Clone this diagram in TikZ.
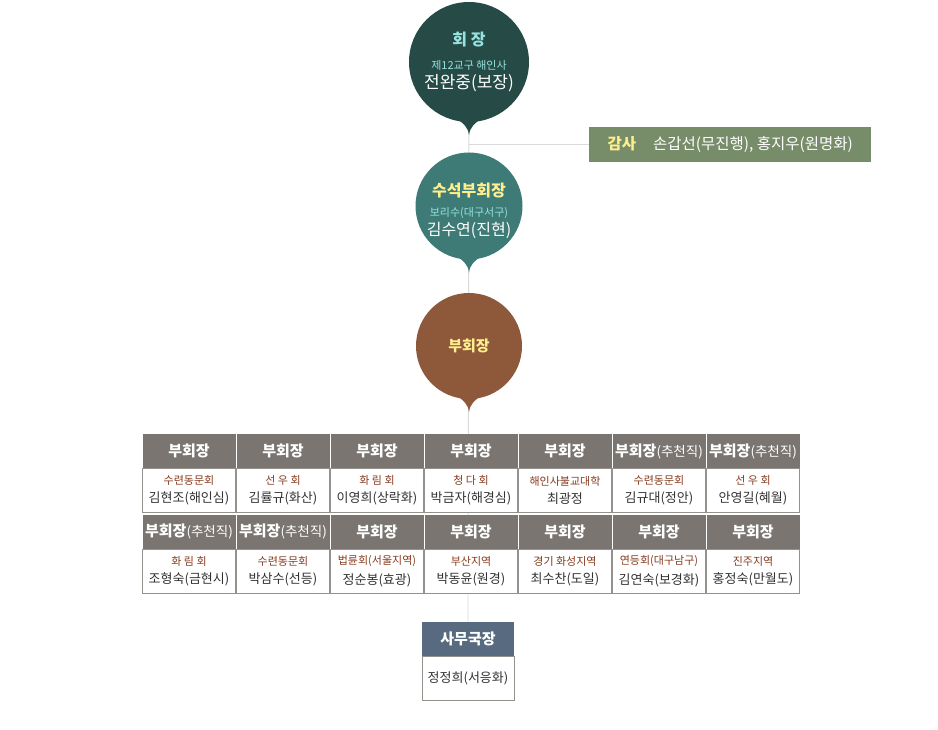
\documentclass[tikz,border=0pt]{standalone}
\usepackage{fontspec}
\setmainfont{Noto Sans CJK KR}
\usetikzlibrary{positioning, backgrounds}
\definecolor{ChDark}{RGB}{38,75,70}
\definecolor{ChTeal}{RGB}{62,123,118}
\definecolor{ChBrown}{RGB}{142,88,58}
\definecolor{ChOlive}{RGB}{119,140,105}
\definecolor{ChGray}{RGB}{122,117,113}
\definecolor{ChSlate}{RGB}{88,106,128}
\definecolor{ChYellow}{RGB}{255,238,140}
\definecolor{ChCyan}{RGB}{150,226,222}
\definecolor{ChRed}{RGB}{135,60,30}
\definecolor{ChLine}{RGB}{218,218,218}
\definecolor{ChText}{RGB}{50,50,50}
% pointed tip under a bubble
\newcommand{\bubbletip}[2]{\fill[#1] ([xshift=-15pt,yshift=5pt]#2.south)
  .. controls ([xshift=-5pt,yshift=-1pt]#2.south) and ([xshift=-1pt,yshift=-5pt]#2.south) .. ([yshift=-13pt]#2.south)
  .. controls ([xshift=1pt,yshift=-5pt]#2.south) and ([xshift=5pt,yshift=-1pt]#2.south) .. ([xshift=15pt,yshift=5pt]#2.south) -- cycle;}
% two lines of a member cell
\newcommand{\vpcell}[2]{{\fontsize{11}{14}\selectfont\color{ChRed}#1}\\[6pt]{\fontsize{13}{16}\selectfont #2}}
% recommended post
\newcommand{\rec}{{\mdseries\fontsize{13.5}{15}\selectfont(추천직)}}

\begin{document}
\begin{tikzpicture}[x=1pt, y=-1pt,
          bubble/.style={circle, inner sep=0pt, align=center, text=white},
          hdr/.style={rectangle, fill=ChGray, text=white, minimum width=93pt,
                      minimum height=34pt, inner sep=0pt,
                      font=\fontsize{15}{17}\selectfont\bfseries},
          body/.style={rectangle, draw=ChGray!80, fill=white, text=ChText,
                       minimum width=93pt, minimum height=44pt, inner sep=0pt,
                       align=center},
          conn/.style={ChLine, line width=0.8pt}
        ]
        \useasboundingbox (0,0) rectangle (938,730);
        % President
        \node[bubble, fill=ChDark, minimum size=120pt] (pres) at (469,62)
              {{\fontsize{16}{18}\selectfont\bfseries\color{ChCyan}회 장}\\[12pt]
               {\fontsize{11}{13}\selectfont\color{ChCyan}제12교구 해인사}\\[3pt]
               {\fontsize{17}{19}\selectfont 전완중(보장)}};
        \bubbletip{ChDark}{pres}
        % Auditors
        \node[rectangle, fill=ChOlive, minimum width=282pt, minimum height=35pt,
              anchor=west, font=\fontsize{15.5}{17}\selectfont]
              (audit) at (589,144.5)
              {{\bfseries\color{ChYellow}감사}\hspace{17pt}{\color{white}손갑선(무진행), 홍지우(원명화)}};
        % Senior vice president
        \node[bubble, fill=ChTeal, minimum size=107pt] (senior) at (469,206)
              {\rule{0pt}{23pt}{\fontsize{16}{18}\selectfont\bfseries\color{ChYellow}수석부회장}\\[8pt]
               {\fontsize{11}{13}\selectfont\color{ChCyan}보리수(대구서구)}\\[2pt]
               {\fontsize{16}{18}\selectfont 김수연(진현)}};
        \bubbletip{ChTeal}{senior}
        % Vice presidents
        \node[bubble, fill=ChBrown, minimum size=106pt,
              font=\fontsize{15}{17}\selectfont\bfseries, text=ChYellow]
              (vice) at (469,346) {부회장};
        \bubbletip{ChBrown}{vice}

        % First row
        \node[hdr] (h11) at (189,451) {부회장};
        \node[body, below=0pt of h11] (b11) {\vpcell{수련동문회}{김현조(해인심)}};
        \node[hdr] (h12) at (283,451) {부회장};
        \node[body, below=0pt of h12] (b12) {\vpcell{선 우 회}{김률규(화산)}};
        \node[hdr] (h13) at (377,451) {부회장};
        \node[body, below=0pt of h13] (b13) {\vpcell{화 림 회}{이영희(상락화)}};
        \node[hdr] (h14) at (471,451) {부회장};
        \node[body, below=0pt of h14] (b14) {\vpcell{청 다 회}{박금자(해경심)}};
        \node[hdr] (h15) at (565,451) {부회장};
        \node[body, below=0pt of h15] (b15) {\vpcell{해인사불교대학}{최광정}};
        \node[hdr] (h16) at (659,451) {부회장\rec};
        \node[body, below=0pt of h16] (b16) {\vpcell{수련동문회}{김규대(정안)}};
        \node[hdr] (h17) at (753,451) {부회장\rec};
        \node[body, below=0pt of h17] (b17) {\vpcell{선 우 회}{안영길(혜월)}};

        % Second row
        \node[hdr] (h21) at (189,531.5) {부회장\rec};
        \node[body, below=0pt of h21] (b21) {\vpcell{화 림 회}{조형숙(금현시)}};
        \node[hdr] (h22) at (283,531.5) {부회장\rec};
        \node[body, below=0pt of h22] (b22) {\vpcell{수련동문회}{박삼수(선등)}};
        \node[hdr] (h23) at (377,531.5) {부회장};
        \node[body, below=0pt of h23] (b23) {\vpcell{법륜회(서울지역)}{정순봉(효광)}};
        \node[hdr] (h24) at (471,531.5) {부회장};
        \node[body, below=0pt of h24] (b24) {\vpcell{부산지역}{박동윤(원경)}};
        \node[hdr] (h25) at (565,531.5) {부회장};
        \node[body, below=0pt of h25] (b25) {\vpcell{경기 화성지역}{최수찬(도일)}};
        \node[hdr] (h26) at (659,531.5) {부회장};
        \node[body, below=0pt of h26] (b26) {\vpcell{연등회(대구남구)}{김연숙(보경화)}};
        \node[hdr] (h27) at (753,531.5) {부회장};
        \node[body, below=0pt of h27] (b27) {\vpcell{진주지역}{홍정숙(만월도)}};

        % Secretary general
        \node[hdr, fill=ChSlate, minimum width=92pt] (sg) at (468,639) {사무국장};
        \node[body, minimum width=92pt, below=0pt of sg] (sgb)
              {\fontsize{13}{16}\selectfont 정정희(서응화)};

        % Connectors
        \begin{scope}[on background layer]
          \draw[conn] (pres.center) -- (sg.center);
          \draw[conn] (audit.west) -- (audit.west -| pres.center);
        \end{scope}
      \end{tikzpicture}
\end{document}
